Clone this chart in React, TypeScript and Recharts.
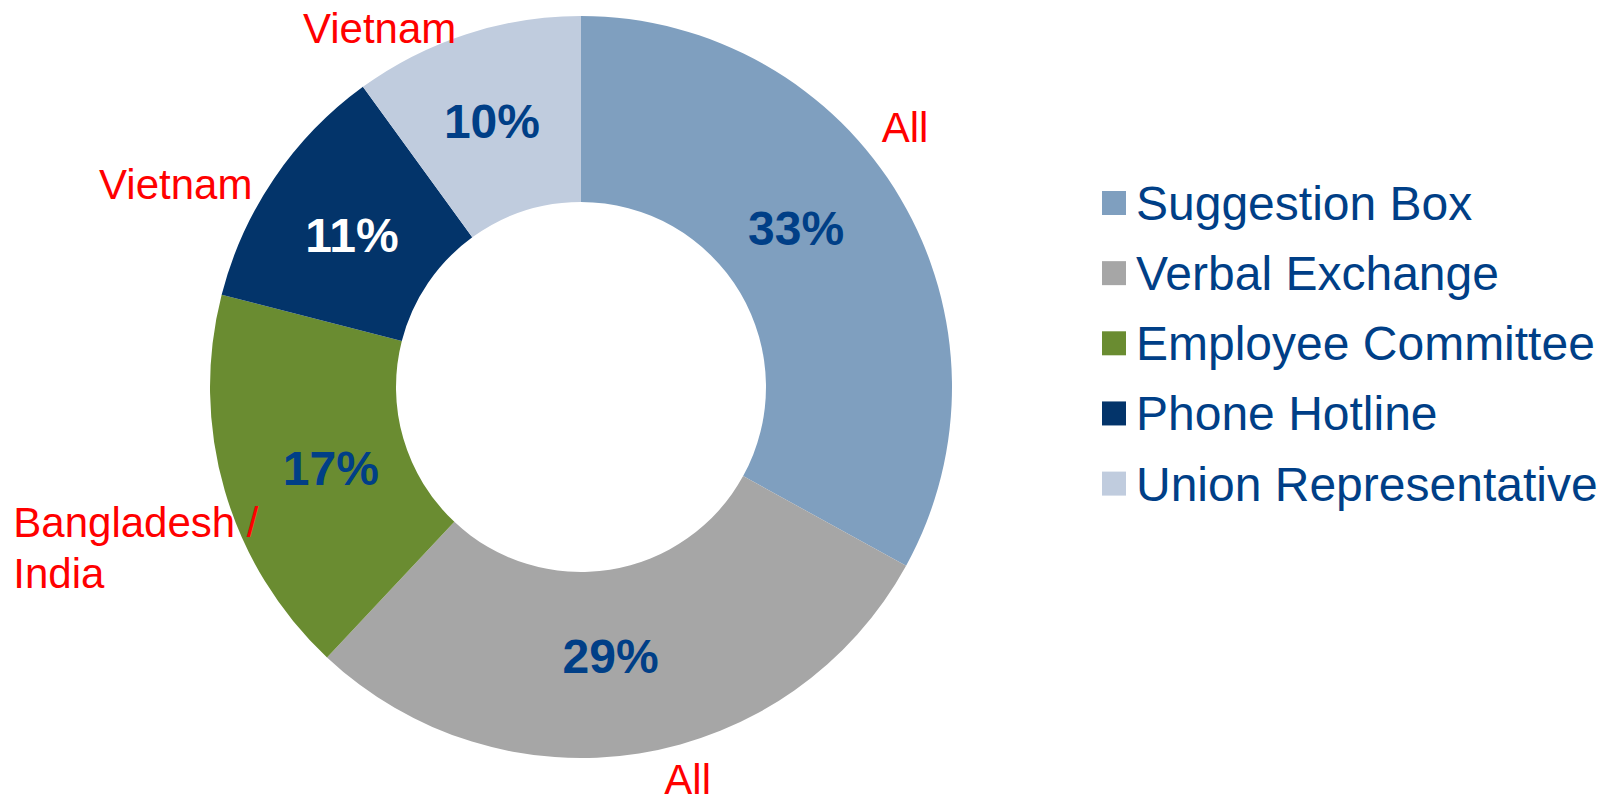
import React from 'react';
import { PieChart, Pie, Cell, Legend } from 'recharts';

const CATEGORIES = ['Suggestion Box', 'Verbal Exchange', 'Employee Committee', 'Phone Hotline', 'Union Representative'];
const SHARES = [33, 29, 17, 11, 10];
const REGIONS = [['All'], ['All'], ['Bangladesh /', 'India'], ['Vietnam'], ['Vietnam']];

const COLORS = ['#7F9FBF', '#A6A6A6', '#6A8C31', '#03346A', '#C0CCDE'];
const PCT_COLORS = ['#003F87', '#003F87', '#003F87', '#FFFFFF', '#003F87'];
const TEXT_BLUE = '#003F87';
const FONT = '"Liberation Sans", Arial, sans-serif';

// hand nudges for the labels (the original annotations were placed by hand)
const PCT_NUDGE = [[-19, -21], [-13, 0], [11, 5], [-4, 1], [-5, -7]];
const REGION_NUDGE = [[-53, -36], [19, 1], [-173, 35], [-142, 43], [-151, 47]];

const data = CATEGORIES.map((name, i) => ({ name, value: SHARES[i], fill: COLORS[i] }));

const RAD = Math.PI / 180;

const renderLabel = (props: any) => {
  const { cx, cy, midAngle, innerRadius, outerRadius, index, value } = props;
  const cos = Math.cos(-midAngle * RAD);
  const sin = Math.sin(-midAngle * RAD);
  const rMid = (innerRadius + outerRadius) / 2 - 6;
  const px = cx + rMid * cos + PCT_NUDGE[index][0];
  const py = cy + rMid * sin + PCT_NUDGE[index][1];
  const rOut = outerRadius + 40;
  const rx = cx + rOut * cos + REGION_NUDGE[index][0];
  const ry = cy + rOut * sin + REGION_NUDGE[index][1];
  return (
    <g>
      <text
        x={px}
        y={py}
        dy={17}
        textAnchor="middle"
        fill={PCT_COLORS[index]}
        style={{ fontFamily: FONT, fontSize: 48, fontWeight: 700 }}
      >
        {`${value}%`}
      </text>
      <text x={rx} y={ry} fill="#FF0000" style={{ fontFamily: FONT, fontSize: 42 }}>
        {REGIONS[index].map((line, k) => (
          <tspan key={k} x={rx} dy={k === 0 ? 0 : 51}>{line}</tspan>
        ))}
      </text>
    </g>
  );
};

// legend kept in data order (recharts would otherwise sort it by name)
const renderLegend = () => (
  <svg width={516} height={380} style={{ display: 'block' }}>
    {data.map((entry, i) => {
      const yc = 43 + i * 70.15;
      return (
        <g key={`leg-${i}`}>
          <rect x={12} y={yc - 12} width={24} height={24} fill={entry.fill} />
          <text x={46} y={yc + 17} fill={TEXT_BLUE} style={{ fontFamily: FONT, fontSize: 48 }}>
            {entry.name}
          </text>
        </g>
      );
    })}
  </svg>
);

export default function App() {
  return (
    <div style={{ position: 'absolute', left: 0, top: 0, width: 1606, height: 804, background: '#fff' }}>
      <PieChart width={1606} height={804} margin={{ top: 0, right: 0, bottom: 0, left: 0 }}>
        <Pie
          data={data}
          dataKey="value"
          nameKey="name"
          cx={581}
          cy={387}
          innerRadius={185}
          outerRadius={371}
          startAngle={90}
          endAngle={-270}
          stroke="none"
          label={renderLabel}
          labelLine={false}
          isAnimationActive={false}
        >
          {data.map((entry, index) => (
            <Cell key={`cell-${index}`} fill={entry.fill} />
          ))}
        </Pie>
        <Legend
          layout="vertical"
          content={renderLegend}
          wrapperStyle={{ position: 'absolute', left: 1090, top: 160, width: 516, height: 380 }}
        />
      </PieChart>
    </div>
  );
}
